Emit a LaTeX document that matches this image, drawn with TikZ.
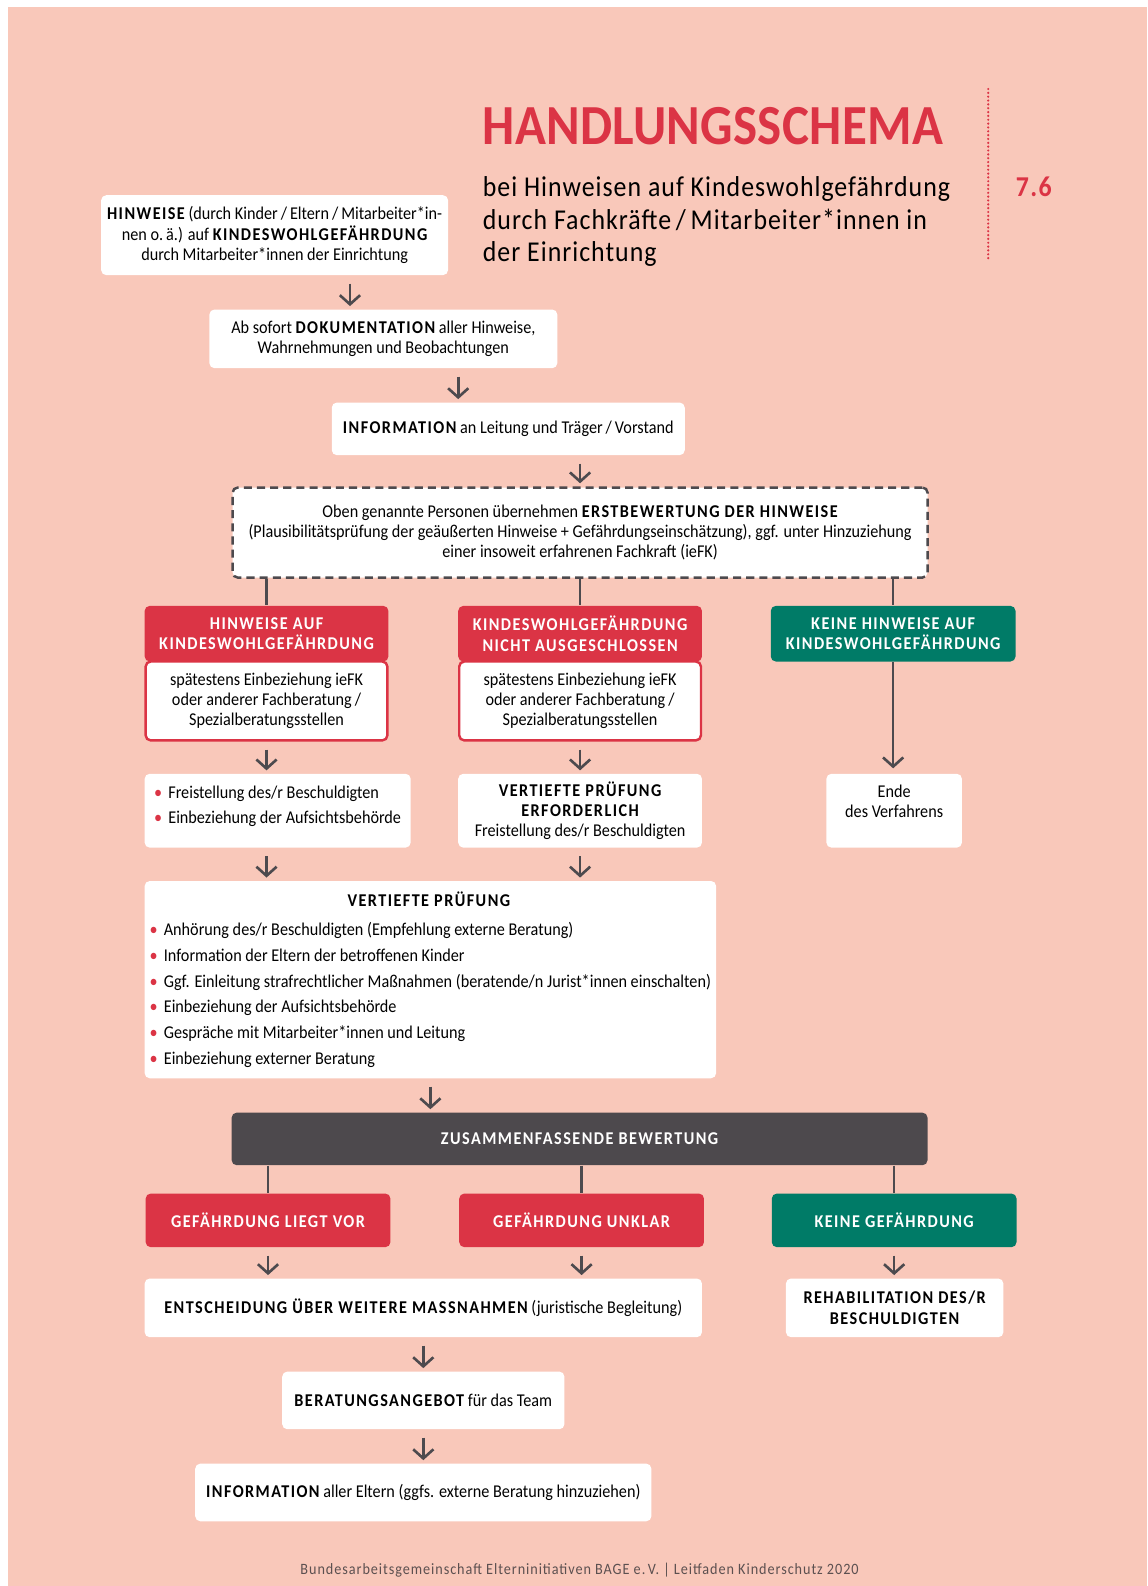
\documentclass[tikz,border=0pt]{standalone}
\usepackage{fontspec}
\setmainfont{Carlito}[FakeStretch=0.9]
\usetikzlibrary{arrows.meta}

\definecolor{bgsalmon}{HTML}{F9C8BA}
\definecolor{hred}{HTML}{DB3445}
\definecolor{hgreen}{HTML}{007B67}
\definecolor{hdark}{HTML}{4D494D}
\definecolor{hline}{HTML}{4D4A4E}
\definecolor{hfoot}{HTML}{5C5050}

\newcommand\bodyfont{\fontsize{8.9}{10}\selectfont}
\newcommand\headfont{\fontsize{8.9}{10}\selectfont\bfseries\addfontfeatures{LetterSpace=8}}
\newcommand\kap[1]{{\bfseries\addfontfeatures{LetterSpace=8}#1}}
\newcommand\rdot{\textcolor{hred}{\textbullet}\hspace{3pt}}

\tikzset{
  box/.style={fill=white, rounded corners=2.5pt, inner sep=0pt, align=center, font=\bodyfont},
  dashbox/.style={box, draw=hline, line width=1.2pt, dash pattern=on 4pt off 2.5pt},
  redhead/.style={fill=hred, rounded corners=2.5pt, text=white, align=center, font=\headfont, inner sep=0pt},
  greenhead/.style={redhead, fill=hgreen},
  darkhead/.style={redhead, fill=hdark},
  redbody/.style={box, draw=hred, line width=1.2pt},
  arr/.style={draw=hline, line width=1.3pt, -{Straight Barb[length=4.5pt,width=10pt]}, shorten <=4pt, shorten >=1.5pt},
  link/.style={draw=hline, line width=1.2pt},
}

\begin{document}
\begin{tikzpicture}[x=0.5pt, y=-0.5pt]

% page background
\fill[white] (0,0) rectangle (1134,1568);
\fill[bgsalmon] (8,7) rectangle (1134,1568);

% title section
\node[anchor=base west, inner sep=0pt, text=hred, font=\fontsize{28}{32}\selectfont\bfseries\addfontfeatures{LetterSpace=0.5}] (title) at (477,143) {HANDLUNGSSCHEMA};
\node[anchor=west, inner sep=0pt, align=left, font=\fontsize{14.2}{16}\selectfont\addfontfeatures{LetterSpace=3.5}] (subtitle) at (477,219) {bei Hinweisen auf Kindeswohlgefährdung\\durch Fachkräfte\,/\,Mitarbeiter*innen in\\der Einrichtung};
\draw[hred, line width=1.2pt, dash pattern=on 0pt off 1.9pt, line cap=round] (977,88) -- (977,256);
\node[inner sep=0pt, text=hred, font=\fontsize{14.2}{16}\selectfont\bfseries\addfontfeatures{LetterSpace=5}] (chapter) at (1022,185) {7.6};

% first steps
\node[box, minimum width=171.5pt, minimum height=39.5pt] (hinweise) at (271.5,232.5) {\kap{HINWEISE} (durch Kinder\,/\,Eltern\,/\,Mitarbeiter*in-\\nen o.\,ä.) auf \kap{KINDESWOHLGEFÄHRDUNG}\\durch Mitarbeiter*innen der Einrichtung};
\node[box, minimum width=172pt, minimum height=29pt] (doku) at (379,335) {Ab sofort \kap{DOKUMENTATION} aller Hinweise,\\Wahrnehmungen und Beobachtungen};
\node[box, minimum width=174.5pt, minimum height=26pt] (info) at (502.5,424) {\kap{INFORMATION} an Leitung und Träger\,/\,Vorstand};
\node[dashbox, minimum width=343.5pt, minimum height=44.5pt] (erst) at (573.5,526.5) {Oben genannte Personen übernehmen \kap{ERSTBEWERTUNG DER HINWEISE}\\(Plausibilitätsprüfung der geäußerten Hinweise + Gefährdungseinschätzung), ggf. unter Hinzuziehung\\einer insoweit erfahrenen Fachkraft (ieFK)};

\coordinate (a1) at (346,0);
\coordinate (a2) at (453,0);
\draw[arr] (hinweise.south -| a1) -- (doku.north -| a1);
\draw[arr] (doku.south -| a2) -- (info.north -| a2);
\draw[arr] (info.south -| erst.north) -- (erst.north);

% three branches
\node[redbody, minimum width=119.5pt, minimum height=39pt] (hinAbody) at (263.5,693) {spätestens Einbeziehung ieFK\\oder anderer Fachberatung\,/\\Spezialberatungsstellen};
\node[redhead, minimum width=120.5pt, minimum height=27.5pt] (hinA) at (263.5,626.5) {HINWEISE AUF\\KINDESWOHLGEFÄHRDUNG};
\node[redbody, minimum width=119.5pt, minimum height=39pt] (kwgBbody) at (573.5,693) {spätestens Einbeziehung ieFK\\oder anderer Fachberatung\,/\\Spezialberatungsstellen};
\node[redhead, minimum width=120.5pt, minimum height=27.5pt] (kwgB) at (573.5,626.5) {KINDESWOHLGEFÄHRDUNG\\NICHT AUSGESCHLOSSEN};
\node[greenhead, minimum width=121pt, minimum height=27.5pt] (keinC) at (883,626.5) {KEINE HINWEISE AUF\\KINDESWOHLGEFÄHRDUNG};

\draw[link] (erst.south -| hinA.north) -- (hinA.north);
\draw[link] (erst.south -| kwgB.north) -- (kwgB.north);
\draw[link] (erst.south -| keinC.north) -- (keinC.north);

\node[box, align=left, minimum width=131.5pt, minimum height=36.5pt] (bulA) at (274.5,801.5) {\rdot Freistellung des/r Beschuldigten\\[2.5pt]\rdot Einbeziehung der Aufsichtsbehörde\\[-4pt]\mbox{}};
\node[box, minimum width=120.5pt, minimum height=36.5pt] (vertB) at (573.5,801.5) {\kap{VERTIEFTE PRÜFUNG}\\\kap{ERFORDERLICH}\\Freistellung des/r Beschuldigten};
\node[box, minimum width=67pt, minimum height=36.5pt] (ende) at (884,801.5) {Ende\\des Verfahrens\\[-1pt]\mbox{}};

\draw[arr] (hinAbody.south) -- (bulA.north -| hinAbody.south);
\draw[arr] (kwgBbody.south) -- (vertB.north);
\draw[arr, shorten <=0pt, shorten >=2.5pt] (keinC.south) -- (ende.north -| keinC.south);

% vertiefte pruefung
\node[box, align=left, minimum width=282.5pt, minimum height=97.5pt] (vertieft) at (425.5,968.5) {\makebox[276pt]{\kap{VERTIEFTE PRÜFUNG}}\\[4.5pt]
\rdot Anhörung des/r Beschuldigten (Empfehlung externe Beratung)\\[2.7pt]
\rdot Information der Eltern der betroffenen Kinder\\[2.7pt]
\rdot Ggf. Einleitung strafrechtlicher Maßnahmen (beratende/n Jurist*innen einschalten)\\[2.7pt]
\rdot Einbeziehung der Aufsichtsbehörde\\[2.7pt]
\rdot Gespräche mit Mitarbeiter*innen und Leitung\\[2.7pt]
\rdot Einbeziehung externer Beratung};

\draw[arr] (bulA.south -| hinA.south) -- (vertieft.north -| hinA.south);
\draw[arr] (vertB.south) -- (vertieft.north -| vertB.south);

% zusammenfassende bewertung
\node[darkhead, minimum width=344pt, minimum height=26pt] (zus) at (573,1126) {ZUSAMMENFASSENDE BEWERTUNG};
\draw[arr] (vertieft.south) -- (vertieft.south |- zus.north);

\node[redhead, minimum width=121pt, minimum height=26.5pt] (liegt) at (265,1206.5) {GEFÄHRDUNG LIEGT VOR};
\node[redhead, minimum width=121pt, minimum height=26.5pt] (unklar) at (575,1206.5) {GEFÄHRDUNG UNKLAR};
\node[greenhead, minimum width=121pt, minimum height=26.5pt] (keine) at (884,1206.5) {KEINE GEFÄHRDUNG};

\draw[link] (zus.south -| liegt.north) -- (liegt.north);
\draw[link] (zus.south -| unklar.north) -- (unklar.north);
\draw[link] (zus.south -| keine.north) -- (keine.north);

% final steps
\node[box, minimum width=275.5pt, minimum height=29pt] (entsch) at (418.5,1293) {\kap{ENTSCHEIDUNG ÜBER WEITERE MASSNAHMEN} (juristische Begleitung)};
\node[box, minimum width=107.5pt, minimum height=29pt] (rehab) at (884.5,1293) {\kap{REHABILITATION DES/R}\\\kap{BESCHULDIGTEN}};
\node[box, minimum width=139.5pt, minimum height=28.5pt] (berat) at (418.5,1384.5) {\kap{BERATUNGSANGEBOT} für das Team};
\node[box, minimum width=225.5pt, minimum height=28.5pt] (eltern) at (418.5,1475.5) {\kap{INFORMATION} aller Eltern (ggfs. externe Beratung hinzuziehen)};

\draw[arr] (liegt.south) -- (liegt.south |- entsch.north);
\draw[arr] (unklar.south) -- (unklar.south |- entsch.north);
\draw[arr] (keine.south) -- (keine.south |- rehab.north);
\draw[arr] (entsch.south) -- (berat.north);
\draw[arr] (berat.south) -- (eltern.north);

% footer
\node[inner sep=0pt, text=hfoot, font=\fontsize{7.8}{9}\selectfont\addfontfeatures{LetterSpace=6}] (footer) at (573,1552) {Bundesarbeitsgemeinschaft Elterninitiativen BAGE e.\,V. | Leitfaden Kinderschutz 2020};

\end{tikzpicture}
\end{document}
